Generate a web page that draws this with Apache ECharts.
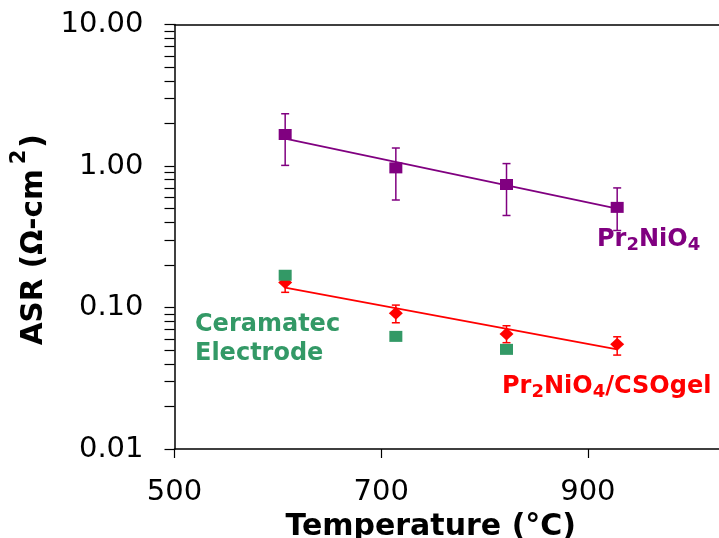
<!DOCTYPE html>
<html>
<head>
<meta charset="utf-8">
<script src="https://cdn.jsdelivr.net/npm/echarts@6/dist/echarts.min.js"></script>
<style>
  html, body { margin: 0; padding: 0; background: #fff; }
</style>
</head>
<body>
<div id="main" style="width: 719px; height: 538px"></div>
<script>
// values (ASR in ohm-cm2, temperature in C)
const temps = [600, 700, 800, 900];
const prNiO4 = [1.67, 0.97, 0.74, 0.51];
const prNiO4Low = [1.01, 0.575, 0.447, 0.35];
const prNiO4High = [2.34, 1.34, 1.04, 0.7];
const cso = [0.15, 0.091, 0.065, 0.055];
const csoLow = [0.128, 0.078, 0.0564, 0.0461];
const csoHigh = [0.176, 0.104, 0.0743, 0.0621];
const fitTemps = [600, 900];
const prNiO4Fit = [1.56, 0.5];
const csoFit = [0.138, 0.0505];
const ceramTemps = [600, 700, 800];
const ceramatec = [0.169, 0.0625, 0.0506];
const xTicks = [500, 700, 900];
const yTicks = [0.01, 0.1, 1, 10];
const yMinorTicks = [
  0.01, 0.02, 0.03, 0.04, 0.05, 0.06, 0.07, 0.08, 0.09,
  0.1, 0.2, 0.3, 0.4, 0.5, 0.6, 0.7, 0.8, 0.9,
  1, 2, 3, 4, 5, 6, 7, 8, 9, 10
];

const FONT = "DejaVu Sans";
const PURPLE = "#800080";
const RED = "#ff0000";
const GREEN = "#339966";

function pairs(xs, ys) {
  return xs.map((x, i) => [x, ys[i]]);
}

function errorBars(color, low, high) {
  return {
    type: "custom",
    xAxisIndex: 1,
    z: 2,
    data: temps.map((t, i) => [t, low[i], high[i]]),
    encode: { x: 0, y: [1, 2] },
    renderItem(params, api) {
      const lo = api.coord([api.value(0), api.value(1)]);
      const hi = api.coord([api.value(0), api.value(2)]);
      const w = 4;
      const st = { stroke: color, lineWidth: 1.5 };
      return {
        type: "group",
        children: [
          { type: "line", shape: { x1: lo[0], y1: lo[1], x2: hi[0], y2: hi[1] }, style: st },
          { type: "line", shape: { x1: lo[0] - w, y1: lo[1], x2: lo[0] + w, y2: lo[1] }, style: st },
          { type: "line", shape: { x1: hi[0] - w, y1: hi[1], x2: hi[0] + w, y2: hi[1] }, style: st },
        ],
      };
    },
  };
}

const subRich = (color) => ({
  m: { fontFamily: FONT, fontWeight: "bold", fontSize: 24, lineHeight: 24, fill: color, verticalAlign: "top" },
  s: { fontFamily: FONT, fontWeight: "bold", fontSize: 18, lineHeight: 18, fill: color, verticalAlign: "top", padding: [8, 0, 0, 0] },
});

var chartDom = document.getElementById("main");
var myChart = echarts.init(chartDom);
var option = {
  animation: false,
  backgroundColor: "#fff",
  grid: { left: 174.5, right: 0, top: 24.5, bottom: 89, outerBoundsMode: "none", containLabel: false },
  xAxis: [
    {
      type: "value",
      position: "bottom",
      min: 500,
      max: 1026.9,
      interval: 200,
      name: "Temperature (°C)",
      nameLocation: "middle",
      nameGap: 57,
      nameTextStyle: { fontFamily: FONT, fontWeight: "bold", fontSize: 30, color: "#000", padding: [0, 32, 0, 0] },
      axisLine: { lineStyle: { color: "#000", width: 1.5 } },
      axisTick: { length: 9, customValues: xTicks, lineStyle: { color: "#000", width: 1.2 } },
      axisLabel: { customValues: xTicks, fontFamily: FONT, fontSize: 29, color: "#000", margin: 29 },
      splitLine: { show: false },
    },
    {
      // scale the markers were actually plotted on
      type: "value",
      position: "bottom",
      show: false,
      min: 500,
      max: 992,
      splitLine: { show: false },
    },
    {
      type: "value",
      position: "top",
      min: 500,
      max: 1026.9,
      axisLine: { lineStyle: { color: "#000", width: 1.5 } },
      axisTick: { show: false },
      axisLabel: { show: false },
      splitLine: { show: false },
    },
  ],
  yAxis: {
    type: "log",
    logBase: 10,
    min: 0.01,
    max: 10,
    name: "{m|ASR (Ω-cm}{s|2}{e|)}",
    nameLocation: "middle",
    nameGap: 123,
    nameTextStyle: {
      rich: {
        m: { fontFamily: FONT, fontWeight: "bold", fontSize: 29.5, lineHeight: 29.5, color: "#000", verticalAlign: "top", padding: [11, 0, 0, 0] },
        s: { fontFamily: FONT, fontWeight: "bold", fontSize: 21, lineHeight: 21, color: "#000", verticalAlign: "top", padding: [0, 2, 0, 5] },
        e: { fontFamily: FONT, fontWeight: "bold", fontSize: 29.5, lineHeight: 29.5, color: "#000", verticalAlign: "top", padding: [11, 6, 0, 0] },
      },
    },
    axisLine: { lineStyle: { color: "#000", width: 1.5 } },
    axisTick: { length: 10, customValues: yMinorTicks, lineStyle: { color: "#000", width: 1.2 } },
    axisLabel: {
      customValues: yTicks,
      fontFamily: FONT,
      fontSize: 29,
      color: "#000",
      margin: 31,
      formatter: (v) => Number(v).toFixed(2),
    },
    splitLine: { show: false },
  },
  series: [
    {
      type: "line",
      xAxisIndex: 1,
      data: pairs(fitTemps, prNiO4Fit),
      symbol: "none",
      lineStyle: { color: PURPLE, width: 1.8 },
      z: 1,
    },
    {
      type: "line",
      xAxisIndex: 1,
      data: pairs(fitTemps, csoFit),
      symbol: "none",
      lineStyle: { color: RED, width: 1.8 },
      z: 1,
    },
    errorBars(PURPLE, prNiO4Low, prNiO4High),
    errorBars(RED, csoLow, csoHigh),
    {
      type: "scatter",
      xAxisIndex: 1,
      data: pairs(temps, prNiO4),
      symbol: "rect",
      symbolSize: [13, 11],
      itemStyle: { color: PURPLE, opacity: 1 },
      z: 3,
    },
    {
      type: "scatter",
      xAxisIndex: 1,
      data: pairs(temps, cso),
      symbol: "diamond",
      symbolSize: [14, 13],
      itemStyle: { color: RED, opacity: 1 },
      z: 3,
    },
    {
      type: "scatter",
      xAxisIndex: 1,
      data: pairs(ceramTemps, ceramatec),
      symbol: "rect",
      symbolSize: [13, 11],
      itemStyle: { color: GREEN, opacity: 1 },
      z: 4,
    },
  ],
  graphic: [
    {
      type: "text",
      z: 10,
      style: {
        text: "Ceramatec\nElectrode",
        x: 195,
        y: 311,
        fontFamily: FONT,
        fontWeight: "bold",
        fontSize: 24,
        lineHeight: 28.5,
        fill: GREEN,
        verticalAlign: "top",
      },
    },
    {
      type: "text",
      z: 10,
      style: {
        text: "{m|Pr}{s|2}{m|NiO}{s|4}",
        x: 597,
        y: 228,
        fill: PURPLE,
        rich: subRich(PURPLE),
        verticalAlign: "top",
      },
    },
    {
      type: "text",
      z: 10,
      style: {
        text: "{m|Pr}{s|2}{m|NiO}{s|4}{m|/CSOgel}",
        x: 502,
        y: 375,
        fill: RED,
        rich: subRich(RED),
        verticalAlign: "top",
      },
    },
  ],
};
myChart.setOption(option);
</script>
</body>
</html>
